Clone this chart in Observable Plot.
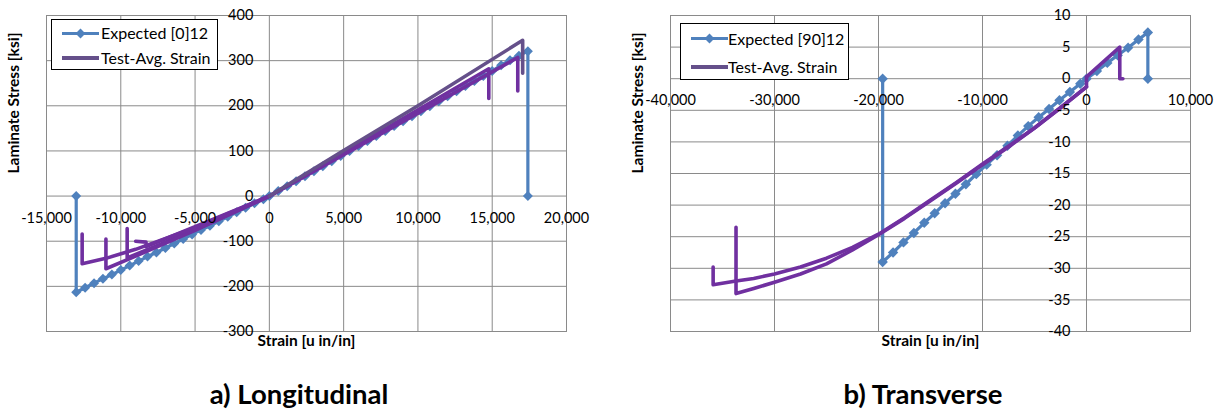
<!DOCTYPE html>
<html><head><meta charset="utf-8">
<script src="https://cdn.jsdelivr.net/npm/d3@7"></script>
<script src="https://cdn.jsdelivr.net/npm/@observablehq/plot@0.6"></script>
<style>
body{margin:0;background:#fff;font-family:Lato, sans-serif;}
#root{position:relative;width:1225px;height:414px;overflow:hidden;background:#fff;}
.panel{position:absolute;top:0;}
.legend{position:absolute;border:1px solid #000;background:#fff;box-sizing:border-box;font-size:16px;color:#000;font-family:Lato, sans-serif;}
.legend .txt{position:absolute;line-height:18px;white-space:nowrap;}
.legend .ln{position:absolute;height:0;}
.legend .dm{position:absolute;width:7px;height:7px;transform:rotate(45deg);}
.caption{position:absolute;font-weight:bold;font-size:27.5px;line-height:27.5px;text-align:center;width:400px;font-family:Lato, sans-serif;}
</style></head>
<body><div id="root"></div>
<script>
// ---------- Panel a) Longitudinal ----------
const xTicksA = [-15000,-10000,-5000,0,5000,10000,15000,20000];
const xLabelsA = ["-15,000","-10,000","-5,000","0","5,000","10,000","15,000","20,000"];
const yTicksA = [400,300,200,100,0,-100,-200,-300];
const yLabelsA = ["400","300","200","100","0","-100","-200","-300"];

const expA_strain = [-13000,-13000,-12400,-11800,-11200,-10600,-10000,-9400,-8800,-8200,-7600,-7000,-6400,-5800,-5200,-4600,-4000,-3400,-2800,-2200,-1600,-1000,-400,0,600,1200,1800,2400,3000,3600,4200,4800,5400,6000,6600,7200,7800,8400,9000,9600,10200,10800,11400,12000,12600,13200,13800,14400,15000,15600,16200,16800,17400,17400];
const expA_stress = [0,-213,-203,-193,-183,-174,-164,-154,-144,-134,-125,-115,-105,-95,-85,-75,-66,-56,-46,-36,-26,-16,-7,0,11,22,33,44,55,66,77,89,100,111,122,133,144,155,166,177,188,199,210,221,232,244,255,266,277,290,301,311,321,0];

// test specimens (avg strain), tension
const tA1_strain = [0,5000,10000,17050,17050];
const tA1_stress = [0,101,200,345,272];
const tA2_strain = [0,16720,16720];
const tA2_stress = [0,307,233];
const tA3_strain = [0,14770,14770];
const tA3_stress = [0,282,216];
// compression
const cA1_strain = [0,-5000,-9000,-11000,-12600,-12600];
const cA1_stress = [0,-70,-118,-138,-150,-84];
const cA2_strain = [0,-5000,-9000,-11000,-11000];
const cA2_stress = [0,-76,-133,-161,-95];
const cA3_strain = [0,-5000,-9570,-9570];
const cA3_stress = [0,-75,-137,-72];
const cA4_strain = [0,-5000,-8300,-8300,-9000];
const cA4_stress = [0,-68,-112,-102,-100];

// ---------- Panel b) Transverse ----------
const xTicksB = [-40000,-30000,-20000,-10000,0,10000];
const xLabelsB = ["-40,000","-30,000","-20,000","-10,000","0","10,000"];
const yTicksB = [10,5,0,-5,-10,-15,-20,-25,-30,-35,-40];
const yLabelsB = ["10","5","0","-5","-10","-15","-20","-25","-30","-35","-40"];

const expB_strain = [-19600,-19600,-18600,-17600,-16600,-15600,-14600,-13600,-12600,-11600,-10600,-9600,-8600,-7600,-6600,-5600,-4600,-3600,-2600,-1600,-600,0,1000,2000,3000,4000,5000,5900,5900];
const expB_stress = [0,-29.0,-27.5,-25.9,-24.4,-22.8,-21.3,-19.7,-18.2,-16.7,-15.1,-13.6,-12.1,-10.6,-9.0,-7.5,-6.1,-4.8,-3.4,-2.1,-0.8,0,1.2,2.5,3.7,4.9,6.2,7.3,0];

const tB1_strain = [0,3200,3200,3500];
const tB1_stress = [0.3,5.0,0,0];
const cB1_strain = [0,0,-2500,-5000,-7500,-10000,-12500,-15000,-17500,-20000,-22500,-25000,-27500,-30000,-32000,-33700,-35900,-35900];
const cB1_stress = [0.3,-1.3,-4.6,-7.8,-10.7,-13.5,-16.4,-19.2,-22.0,-24.6,-26.7,-28.4,-29.8,-30.9,-31.6,-32.0,-32.6,-29.8];
const cB2_strain = [0,-2500,-5000,-7500,-10000,-12500,-15000,-17500,-20000,-22500,-25000,-27500,-30000,-32000,-33700,-33700];
const cB2_stress = [-1.3,-4.6,-7.8,-10.8,-13.6,-16.5,-19.3,-22.1,-24.7,-27.1,-29.3,-30.9,-32.2,-33.2,-34.0,-23.5];

const BLUE = "#4F81BD", PURPLE = "#7030A0", PURPLE_GREY = "#65508a", GRID = "#8a8a8a";

const rows = (xs, ys) => xs.map((x, i) => ({x, y: ys[i]}));

function makePanel(o) {
  const exp = rows(o.expStrain, o.expStress);
  const marks = [
    Plot.ruleX(o.xTicks, {stroke: GRID, strokeWidth: 1}),
    Plot.ruleY(o.yTicks, {stroke: GRID, strokeWidth: 1}),
    Plot.frame({stroke: GRID, strokeWidth: 1}),
    Plot.line(exp, {x: "x", y: "y", stroke: BLUE, strokeWidth: 3.2}),
    Plot.dot(exp, {x: "x", y: "y", symbol: "diamond2", r: o.dotR, fill: BLUE, stroke: null}),
    ...o.tests.map(t => Plot.line(rows(t.s, t.v), {x: "x", y: "y", stroke: t.c, strokeWidth: 3.6, strokeLinejoin: "round"})),
    Plot.text(o.xTicks, {x: d => d, y: 0, dy: 22, text: (d, i) => o.xLabels[i], textAnchor: "middle", fontSize: 14.5}),
    Plot.text(o.yTicks, {x: 0, y: d => d, dx: -16, text: (d, i) => o.yLabels[i], textAnchor: "end", fontSize: 14.5}),
    Plot.text(["Laminate Stress [ksi]"], {frameAnchor: "left", dx: -32, rotate: -90, fontWeight: "bold", fontSize: 15.5}),
    Plot.text(["Strain [u in/in]"], {frameAnchor: "bottom", dy: 14, fontWeight: "bold", fontSize: 15.5})
  ];
  return Plot.plot({
    width: o.width, height: 360,
    marginLeft: o.ml, marginRight: o.mr, marginTop: 15, marginBottom: 29,
    x: {domain: o.xDomain, axis: null},
    y: {domain: o.yDomain, axis: null},
    style: {fontFamily: "Lato, sans-serif", fontSize: "14px", background: "transparent", overflow: "visible", color: "#000"},
    marks
  });
}

const root = document.getElementById("root");

const pa = makePanel({
  width: 612, ml: 46, mr: 46, dotR: 4.5,
  xDomain: [-15000, 20000], yDomain: [-300, 400],
  xTicks: xTicksA, xLabels: xLabelsA, yTicks: yTicksA, yLabels: yLabelsA,
  expStrain: expA_strain, expStress: expA_stress,
  tests: [
    {s: cA4_strain, v: cA4_stress, c: PURPLE},
    {s: cA3_strain, v: cA3_stress, c: PURPLE},
    {s: cA2_strain, v: cA2_stress, c: PURPLE},
    {s: cA1_strain, v: cA1_stress, c: PURPLE},
    {s: tA3_strain, v: tA3_stress, c: PURPLE},
    {s: tA2_strain, v: tA2_stress, c: PURPLE},
    {s: tA1_strain, v: tA1_stress, c: PURPLE_GREY}
  ]
});
const pb = makePanel({
  width: 613, ml: 58, mr: 35, dotR: 4.7,
  xDomain: [-40000, 10000], yDomain: [-40, 10],
  xTicks: xTicksB, xLabels: xLabelsB, yTicks: yTicksB, yLabels: yLabelsB,
  expStrain: expB_strain, expStress: expB_stress,
  tests: [
    {s: cB2_strain, v: cB2_stress, c: PURPLE},
    {s: cB1_strain, v: cB1_stress, c: PURPLE},
    {s: tB1_strain, v: tB1_stress, c: PURPLE}
  ]
});

function place(node, left) {
  const d = document.createElement("div");
  d.className = "panel"; d.style.left = left + "px";
  d.appendChild(node); root.appendChild(d);
}
place(pa, 0);
place(pb, 612);

function legend(left, top, w, h, rowsY, lineX0, lineX1, textX, labels) {
  const L = document.createElement("div");
  L.className = "legend";
  Object.assign(L.style, {left: left + "px", top: top + "px", width: w + "px", height: h + "px"});
  const l1 = document.createElement("div"); l1.className = "ln";
  Object.assign(l1.style, {left: lineX0 + "px", width: (lineX1 - lineX0) + "px", top: (rowsY[0] - 1.5) + "px", borderTop: "3px solid " + BLUE});
  const dm = document.createElement("div"); dm.className = "dm";
  Object.assign(dm.style, {left: ((lineX0 + lineX1) / 2 - 3.5) + "px", top: (rowsY[0] - 3.5) + "px", background: BLUE});
  const t1 = document.createElement("div"); t1.className = "txt"; t1.textContent = labels[0];
  Object.assign(t1.style, {left: textX + "px", top: (rowsY[0] - 9) + "px"});
  const l2 = document.createElement("div"); l2.className = "ln";
  Object.assign(l2.style, {left: lineX0 + "px", width: (lineX1 - lineX0) + "px", top: (rowsY[1] - 2) + "px", borderTop: "4px solid " + PURPLE_GREY});
  const t2 = document.createElement("div"); t2.className = "txt"; t2.textContent = labels[1];
  Object.assign(t2.style, {left: textX + "px", top: (rowsY[1] - 9) + "px"});
  [l1, dm, t1, l2, t2].forEach(e => L.appendChild(e));
  root.appendChild(L);
}
legend(51, 19, 167, 51, [13, 37.5], 10, 47, 49, ["Expected [0]12", "Test-Avg. Strain"]);
legend(680, 23, 169, 57, [14.5, 42.5], 10, 46.5, 47, ["Expected [90]12", "Test-Avg. Strain"]);

function caption(text, cx) {
  const c = document.createElement("div");
  c.className = "caption"; c.textContent = text;
  Object.assign(c.style, {left: (cx - 200) + "px", top: "380px"});
  root.appendChild(c);
}
caption("a) Longitudinal", 299);
caption("b) Transverse", 923);
</script>
</body></html>
